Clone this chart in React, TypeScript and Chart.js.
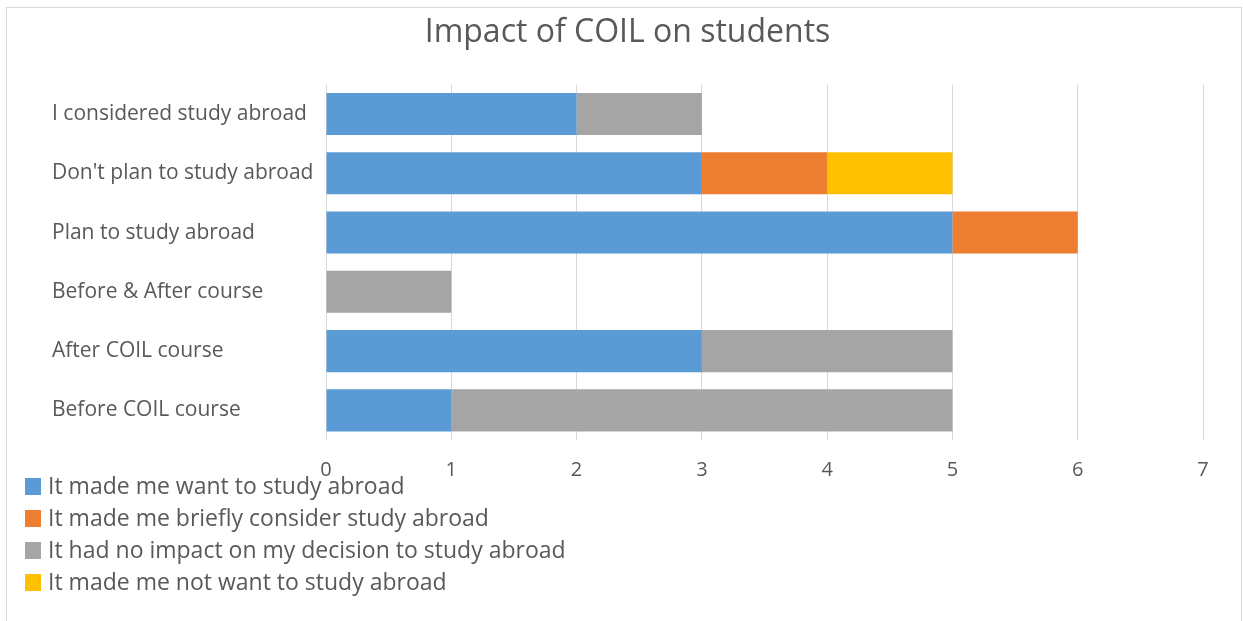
import React, { useEffect, useRef } from "react";
import { Chart, registerables } from "chart.js";

Chart.register(...registerables);

const categories = [
  "I considered study abroad",
  "Don't plan to study abroad",
  "Plan to study abroad",
  "Before & After course",
  "After COIL course",
  "Before COIL course",
];
const seriesNames = [
  "It made me want to study abroad",
  "It made me briefly consider study abroad",
  "It had no impact on my decision to study abroad",
  "It made me not want to study abroad",
];
const wantValues = [2, 3, 5, 0, 3, 1];
const brieflyValues = [0, 1, 1, 0, 0, 0];
const noImpactValues = [1, 0, 0, 1, 2, 4];
const notWantValues = [0, 1, 0, 0, 0, 0];
const xTicks = [0, 1, 2, 3, 4, 5, 6, 7];

const colors = ["#5B9BD5", "#ED7D31", "#A5A5A5", "#FFC000"];
const FONT = "'Open Sans', sans-serif";
const TEXT = "#595959";

const W = 1234;
const H = 613;
const PAD_LEFT = 45;

const legendPlugin = {
  id: "vertLegend",
  afterDraw(chart: any) {
    const ctx = chart.ctx;
    ctx.save();
    ctx.font = `23px ${FONT}`;
    ctx.textBaseline = "middle";
    ctx.textAlign = "left";
    chart.data.datasets.forEach((ds: any, i: number) => {
      const cy = 478 + i * 32;
      ctx.fillStyle = ds.backgroundColor;
      ctx.fillRect(18, cy - 8, 16, 17);
      ctx.fillStyle = TEXT;
      ctx.fillText(ds.label, 41, cy + 1);
    });
    ctx.restore();
  },
};

export default function App() {
  const ref = useRef<HTMLCanvasElement>(null);
  useEffect(() => {
    if (!ref.current) return;
    const values = [wantValues, brieflyValues, noImpactValues, notWantValues];
    const chart = new Chart(ref.current, {
      type: "bar",
      data: {
        labels: categories,
        datasets: seriesNames.map((name, i) => ({
          label: name,
          data: values[i],
          backgroundColor: colors[i],
          borderWidth: 0,
          barPercentage: 0.71,
          categoryPercentage: 1,
        })),
      },
      options: {
        indexAxis: "y",
        responsive: false,
        animation: false,
        layout: { padding: { left: PAD_LEFT, right: 38, top: 0, bottom: 0 } },
        plugins: {
          legend: { display: false },
          tooltip: { enabled: false },
          title: {
            display: true,
            text: "Impact of COIL on students",
            color: TEXT,
            font: { family: FONT, size: 32, weight: "normal" },
            padding: { top: 6, bottom: 32 },
          },
        },
        scales: {
          x: {
            stacked: true,
            min: 0,
            max: 7,
            afterBuildTicks: (s: any) => {
              s.ticks = xTicks.map((v) => ({ value: v }));
            },
            afterFit: (s: any) => {
              s.height = H - 432;
            },
            grid: { color: "#D9D9D9", lineWidth: 1, drawTicks: false },
            border: { display: false },
            ticks: {
              color: TEXT,
              font: { family: FONT, size: 20 },
              padding: 18,
            },
          },
          y: {
            stacked: true,
            afterFit: (s: any) => {
              s.width = 319 - PAD_LEFT;
            },
            grid: { display: false, drawTicks: false },
            border: { display: false },
            ticks: {
              color: TEXT,
              crossAlign: "far",
              font: { family: FONT, size: 21 },
              padding: 14,
            },
          },
        },
      },
      plugins: [legendPlugin],
    });
    return () => chart.destroy();
  }, []);
  return (
    <div
      style={{
        position: "absolute",
        left: 6,
        top: 7,
        width: W,
        height: H,
        borderTop: "1px solid #D9D9D9",
        borderLeft: "1px solid #D9D9D9",
        borderRight: "1px solid #D9D9D9",
        background: "#fff",
      }}
    >
      <canvas ref={ref} width={W} height={H} style={{ display: "block" }} />
    </div>
  );
}
